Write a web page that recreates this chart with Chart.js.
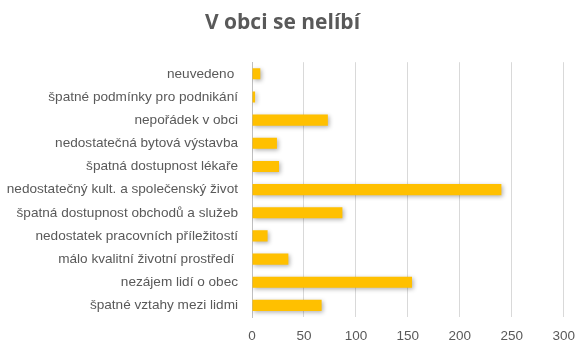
<!DOCTYPE html>
<html>
<head>
<meta charset="utf-8">
<script src="https://cdn.jsdelivr.net/npm/chart.js@4"></script>
<style>
  html, body { margin: 0; padding: 0; background: #fff; }
  #wrap { width: 586px; height: 353px; position: relative; }
</style>
</head>
<body>
<div id="wrap"><canvas id="chart"></canvas></div>
<script>
const TITLE = "V obci se nelíbí";

const categories = [
    "neuvedeno ",
    "špatné podmínky pro podnikání",
    "nepořádek v obci",
    "nedostatečná bytová výstavba",
    "špatná dostupnost lékaře",
    "nedostatečný kult. a společenský život",
    "špatná dostupnost obchodů a služeb",
    "nedostatek pracovních příležitostí",
    "málo kvalitní životní prostředí ",
    "nezájem lidí o obec",
    "špatné vztahy mezi lidmi",
];
const counts = [8, 3, 73, 24, 26, 240, 87, 15, 35, 154, 67];
const xTicks = [0, 50, 100, 150, 200, 250, 300];

const TEXT = "#595959";
const FONT = "'Liberation Sans', Arial, sans-serif";

// soft drop shadow under the bars, like the office original
const barShadow = {
    id: "barShadow",
    beforeDatasetsDraw(chart) {
        const ctx = chart.ctx;
        ctx.save();
        ctx.shadowColor = "rgba(0,0,0,0.3)";
        ctx.shadowBlur = 4;
        ctx.shadowOffsetX = 1.5;
        ctx.shadowOffsetY = 1.5;
    },
    afterDatasetsDraw(chart) {
        chart.ctx.restore();
    },
};

new Chart(document.getElementById("chart"), {
    type: "bar",
    data: {
        labels: categories,
        datasets: [{
            data: counts,
            backgroundColor: "#FFC000",
            borderWidth: 0,
            categoryPercentage: 1,
            barPercentage: 0.48,
        }],
    },
    options: {
        indexAxis: "y",
        responsive: true,
        maintainAspectRatio: false,
        animation: false,
        layout: { padding: { left: 0, right: 21, top: 0, bottom: 0 } },
        scales: {
            x: {
                min: 0,
                max: 300,
                afterBuildTicks: (scale) => { scale.ticks = xTicks.map(v => ({ value: v })); },
                afterFit: (scale) => { scale.height = 36; },
                border: { display: false },
                grid: { color: "#d9d9d9", drawTicks: false },
                ticks: { color: TEXT, font: { family: FONT, size: 13.5 }, padding: 11 },
            },
            y: {
                afterFit: (scale) => { scale.width = 252; },
                border: { color: "#bfbfbf" },
                grid: { display: false, drawTicks: false },
                ticks: { color: TEXT, font: { family: FONT, size: 13.6 }, padding: 14 },
            },
        },
        plugins: {
            legend: { display: false },
            tooltip: { enabled: false },
            title: {
                display: true,
                text: TITLE,
                color: TEXT,
                font: { family: "'Open Sans', sans-serif", size: 21, weight: "bold" },
                padding: { top: 10, bottom: 27 },
            },
        },
    },
    plugins: [barShadow],
});
</script>
</body>
</html>
